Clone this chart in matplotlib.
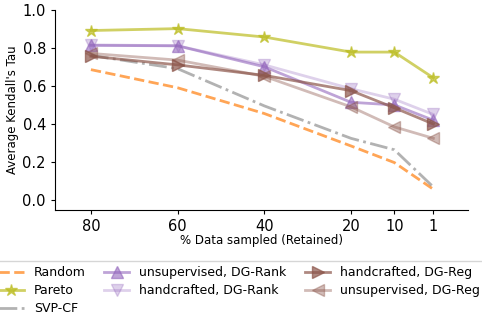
import matplotlib
matplotlib.use("Agg")
import matplotlib.pyplot as plt

x_vals = [80, 60, 40, 20, 10, 1]
x_ticklabels = ["80", "60", "40", "20", "10", "1"]

random_vals = [0.685, 0.59, 0.455, 0.285, 0.198, 0.058]
pareto_vals = [0.89, 0.90, 0.856, 0.777, 0.777, 0.642]
svp_vals = [0.76, 0.69, 0.495, 0.325, 0.265, 0.07]
unsup_rank = [0.812, 0.81, 0.70, 0.514, 0.50, 0.42]
hand_rank = [0.815, 0.81, 0.71, 0.585, 0.53, 0.45]
hand_reg = [0.755, 0.71, 0.655, 0.575, 0.485, 0.40]
unsup_reg = [0.77, 0.735, 0.65, 0.49, 0.385, 0.325]

fig = plt.figure(figsize=(4.82, 3.18), dpi=100)
ax = fig.add_axes([0.114, 0.34, 0.857, 0.63])

lw = 2.0
ms = 9
ax.plot(x_vals, random_vals, ls="--", color="#ff7f0e", alpha=0.7, lw=lw, label="Random")
ax.plot(x_vals, pareto_vals, marker="*", ms=ms, color="#bcbd22", alpha=0.7, lw=lw, label="Pareto")
ax.plot(x_vals, svp_vals, ls="-.", color="#7f7f7f", alpha=0.6, lw=lw, label="SVP-CF")
ax.plot(x_vals, unsup_rank, marker="^", ms=ms, color="#9467bd", alpha=0.6, lw=lw, label="unsupervised, DG-Rank")
ax.plot(x_vals, hand_rank, marker="v", ms=ms, color="#9467bd", alpha=0.3, lw=lw, label="handcrafted, DG-Rank")
ax.plot(x_vals, hand_reg, marker=">", ms=ms, color="#8c564b", alpha=0.7, lw=lw, label="handcrafted, DG-Reg")
ax.plot(x_vals, unsup_reg, marker="<", ms=ms, color="#8c564b", alpha=0.4, lw=lw, label="unsupervised, DG-Reg")

ax.set_xlim(88.3, -7)
ax.set_ylim(-0.05, 1.0)
ax.set_xticks(x_vals)
ax.set_xticklabels(x_ticklabels)
ax.set_yticks([0.0, 0.2, 0.4, 0.6, 0.8, 1.0])
ax.tick_params(labelsize=10.5, length=3)
ax.set_xlabel("% Data sampled (Retained)", fontsize=8.5, labelpad=0)
ax.set_ylabel("Average Kendall's Tau", fontsize=8.5, labelpad=2.5)
ax.spines["top"].set_visible(False)
ax.spines["right"].set_visible(False)

fig.legend(loc="upper center", bbox_to_anchor=(0.497, 0.178), ncol=3, fontsize=9,
           frameon=True, handlelength=2.0, columnspacing=1.5, borderaxespad=0,
           labelspacing=0.4)

fig.savefig("out.png", dpi=100)
